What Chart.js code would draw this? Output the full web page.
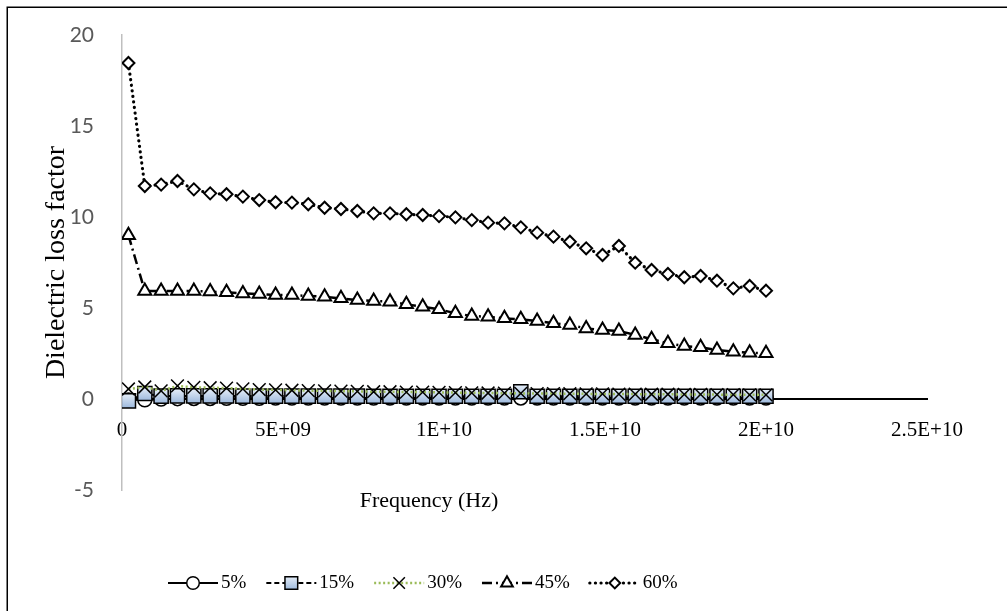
<!DOCTYPE html>
<html>
<head>
<meta charset="utf-8">
<script src="https://cdn.jsdelivr.net/npm/chart.js@4.4.1/dist/chart.umd.min.js"></script>
<style>
  html, body { margin: 0; padding: 0; background: #fff; overflow: hidden; }
  canvas { display: block; }
</style>
</head>
<body>
<canvas id="c" width="1007" height="611"></canvas>
<script>
// ---- data ----
const frequencies = [
  2.00e8, 7.08e8, 1.215e9, 1.723e9, 2.231e9, 2.738e9, 3.246e9, 3.754e9, 4.262e9, 4.769e9,
  5.277e9, 5.785e9, 6.292e9, 6.800e9, 7.308e9, 7.815e9, 8.323e9, 8.831e9, 9.338e9, 9.846e9,
  1.0354e10, 1.0862e10, 1.1369e10, 1.1877e10, 1.2385e10, 1.2892e10, 1.3400e10, 1.3908e10, 1.4415e10, 1.4923e10,
  1.5431e10, 1.5938e10, 1.6446e10, 1.6954e10, 1.7462e10, 1.7969e10, 1.8477e10, 1.8985e10, 1.9492e10, 2.0000e10
];
const seriesNames = ['5%', '15%', '30%', '45%', '60%'];
const loss5 = [
  -0.06, -0.04, 0.00, 0.02, 0.03, 0.03, 0.04, 0.04, 0.04, 0.05,
  0.05, 0.05, 0.05, 0.05, 0.05, 0.05, 0.06, 0.06, 0.06, 0.06,
  0.06, 0.06, 0.06, 0.06, 0.06, 0.06, 0.06, 0.06, 0.06, 0.06,
  0.06, 0.06, 0.06, 0.06, 0.06, 0.06, 0.06, 0.06, 0.06, 0.06
];
const loss15 = [
  -0.10, 0.30, 0.16, 0.17, 0.17, 0.17, 0.17, 0.16, 0.16, 0.16,
  0.16, 0.16, 0.16, 0.16, 0.16, 0.15, 0.15, 0.15, 0.15, 0.15,
  0.15, 0.15, 0.15, 0.15, 0.40, 0.15, 0.15, 0.15, 0.15, 0.15,
  0.15, 0.15, 0.15, 0.15, 0.15, 0.15, 0.15, 0.15, 0.15, 0.15
];
const loss30 = [
  0.55, 0.66, 0.45, 0.72, 0.64, 0.62, 0.60, 0.56, 0.52, 0.50,
  0.48, 0.46, 0.45, 0.43, 0.42, 0.40, 0.40, 0.38, 0.38, 0.36,
  0.35, 0.34, 0.33, 0.32, 0.31, 0.30, 0.30, 0.29, 0.28, 0.28,
  0.27, 0.27, 0.26, 0.26, 0.25, 0.25, 0.24, 0.24, 0.23, 0.23
];
const loss45 = [
  9.00, 5.93, 5.93, 5.93, 5.93, 5.90, 5.86, 5.80, 5.77, 5.71,
  5.71, 5.66, 5.62, 5.53, 5.44, 5.38, 5.35, 5.20, 5.07, 4.93,
  4.71, 4.56, 4.52, 4.43, 4.38, 4.29, 4.16, 4.07, 3.88, 3.79,
  3.74, 3.52, 3.28, 3.06, 2.91, 2.84, 2.69, 2.60, 2.54, 2.51
];
const loss60 = [
  18.46, 11.70, 11.78, 11.98, 11.52, 11.30, 11.25, 11.12, 10.93, 10.81,
  10.79, 10.70, 10.51, 10.44, 10.33, 10.20, 10.20, 10.15, 10.11, 10.05,
  9.98, 9.83, 9.69, 9.65, 9.43, 9.14, 8.92, 8.64, 8.28, 7.91,
  8.41, 7.49, 7.09, 6.87, 6.69, 6.76, 6.50, 6.08, 6.21, 5.95
];
const xTickLabels = ['0', '5E+09', '1E+10', '1.5E+10', '2E+10', '2.5E+10'];
const yTickLabels = ['-5', '0', '5', '10', '15', '20'];
const xTitle = 'Frequency (Hz)';
const yTitle = 'Dielectric loss factor';

function pts(values) {
  return frequencies.map((f, i) => ({ x: f, y: values[i] }));
}

// light-blue gradient fill for the square markers
function squareFill(ctx) {
  const chart = ctx.chart;
  const ys = chart.scales && chart.scales.y;
  if (!ys || !ctx.parsed || ys.height === undefined) return '#bcd0e8';
  const py = ys.getPixelForValue(ctx.parsed.y);
  const g = chart.ctx.createLinearGradient(0, py - 7, 0, py + 7);
  g.addColorStop(0, '#e6eef8');
  g.addColorStop(1, '#9db9dd');
  return g;
}

const datasets = [
  { label: seriesNames[0], data: pts(loss5), order: 5,
    borderColor: '#000', borderWidth: 2, borderDash: [],
    pointStyle: 'circle', pointRadius: 7, pointBorderWidth: 1.5,
    pointBackgroundColor: '#fff', pointBorderColor: '#000' },
  { label: seriesNames[1], data: pts(loss15), order: 4,
    borderColor: '#000', borderWidth: 2, borderDash: [5, 3],
    pointStyle: 'rect', pointRadius: 10, pointBorderWidth: 1.5,
    pointBackgroundColor: squareFill, pointBorderColor: '#000' },
  { label: seriesNames[2], data: pts(loss30), order: 3,
    borderColor: '#9bbb59', borderWidth: 2.5, borderDash: [2, 2.5],
    pointStyle: 'crossRot', pointRadius: 9, pointBorderWidth: 1.5,
    pointBackgroundColor: '#000', pointBorderColor: '#000' },
  { label: seriesNames[3], data: pts(loss45), order: 2,
    borderColor: '#000', borderWidth: 2.5, borderDash: [10, 4, 2, 4],
    pointStyle: 'triangle', pointRadius: 7.5, pointBorderWidth: 2,
    pointBackgroundColor: '#fff', pointBorderColor: '#000' },
  { label: seriesNames[4], data: pts(loss60), order: 1,
    borderColor: '#000', borderWidth: 3.2, borderDash: [0.1, 5.5], borderCapStyle: 'round',
    pointStyle: 'rectRot', pointRadius: 6, pointBorderWidth: 2,
    pointBackgroundColor: '#fff', pointBorderColor: '#000' }
];

// plugin: white background, outer frame, x-axis title and legend (Excel style)
const decor = {
  id: 'decor',
  beforeDraw(chart) {
    const c = chart.ctx;
    c.save();
    c.fillStyle = '#fff';
    c.fillRect(0, 0, chart.width, chart.height);
    c.strokeStyle = '#000';
    c.lineWidth = 1.5;
    c.strokeRect(7.25, 7.25, 1200, 800);
    c.restore();
  },
  afterDraw(chart) {
    const c = chart.ctx;
    c.save();
    // x axis title
    c.fillStyle = '#000';
    c.font = '22px "Liberation Serif", "Times New Roman", serif';
    c.textAlign = 'center';
    c.textBaseline = 'middle';
    c.fillText(xTitle, 429, 501);
    // legend
    const ly = 583;
    let lx = 168;
    c.font = '19px "Liberation Serif", "Times New Roman", serif';
    chart.data.datasets.forEach(ds => {
      c.save();
      c.strokeStyle = ds.borderColor;
      c.lineWidth = ds.borderWidth;
      c.lineCap = ds.borderCapStyle || 'butt';
      c.setLineDash(ds.borderDash || []);
      c.beginPath();
      c.moveTo(lx, ly);
      c.lineTo(lx + 50, ly);
      c.stroke();
      c.restore();
      c.save();
      const mx = lx + 25;
      let fill = ds.pointBackgroundColor;
      if (typeof fill === 'function') {
        const g = c.createLinearGradient(0, ly - 7, 0, ly + 7);
        g.addColorStop(0, '#e6eef8');
        g.addColorStop(1, '#9db9dd');
        fill = g;
      }
      c.fillStyle = fill;
      c.strokeStyle = ds.pointBorderColor;
      c.lineWidth = ds.pointBorderWidth;
      Chart.helpers.drawPoint(c, {
        pointStyle: ds.pointStyle,
        radius: ds.pointRadius * 0.9,
        rotation: 0,
        borderWidth: ds.pointBorderWidth
      }, mx, ly);
      c.restore();
      c.fillStyle = '#000';
      c.textAlign = 'left';
      c.textBaseline = 'middle';
      c.fillText(ds.label, lx + 53, ly);
      lx += 53 + c.measureText(ds.label).width + 20;
    });
    c.restore();
  }
};

new Chart(document.getElementById('c'), {
  type: 'line',
  data: { datasets },
  plugins: [decor],
  options: {
    responsive: false,
    animation: false,
    devicePixelRatio: 1,
    layout: { padding: { left: 0, top: 35, right: 80, bottom: 121 } },
    plugins: { legend: { display: false }, tooltip: { enabled: false } },
    elements: { line: { tension: 0, fill: false } },
    scales: {
      x: {
        type: 'linear',
        position: { y: 0 },
        min: 0, max: 2.5e10,
        grid: { display: false },
        border: { display: true, color: '#000', width: 2 },
        ticks: {
          stepSize: 5e9,
          autoSkip: false,
          maxRotation: 0,
          padding: 11,
          color: '#000',
          font: { family: '"Liberation Serif", "Times New Roman", serif', size: 21 },
          callback: (v, i) => xTickLabels[i]
        }
      },
      y: {
        type: 'linear',
        min: -5, max: 20,
        grid: { display: false },
        border: { display: true, color: '#bfbfbf', width: 1.5 },
        ticks: {
          stepSize: 5,
          padding: 20,
          color: '#595959',
          font: { family: 'Lato, "Open Sans", sans-serif', size: 21 },
          callback: (v, i) => yTickLabels[i]
        },
        title: {
          display: true,
          text: yTitle,
          color: '#000',
          font: { family: '"Liberation Serif", "Times New Roman", serif', size: 28 },
          padding: { top: 40, bottom: 0 }
        },
        afterFit(scale) { scale.width = 122; }
      }
    }
  }
});
</script>
</body>
</html>
